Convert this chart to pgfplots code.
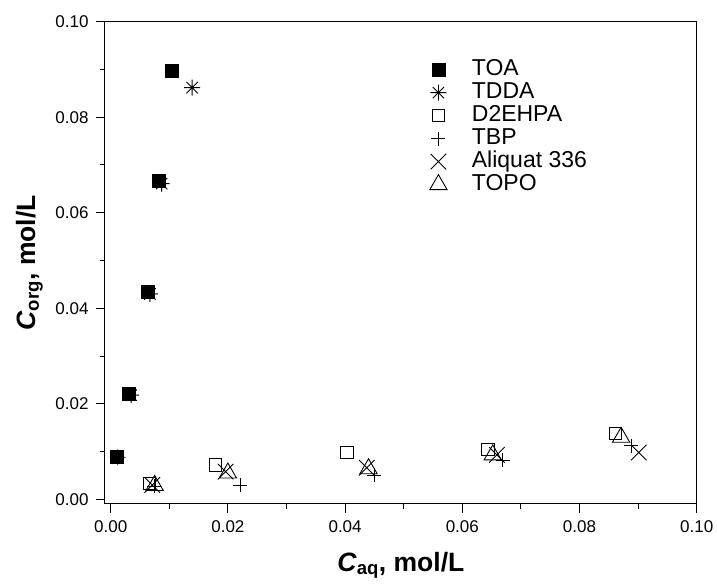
\documentclass[border=0pt]{standalone}
\usepackage{fontspec}
\setmainfont{Liberation Sans}
\usepackage{pgfplots}
\pgfplotsset{compat=1.18}
\pgfdeclareplotmark{star8}{%
  \pgfpathmoveto{\pgfqpoint{0pt}{\pgfplotmarksize}}%
  \pgfpathlineto{\pgfqpoint{0pt}{-\pgfplotmarksize}}%
  \pgfpathmoveto{\pgfqpoint{\pgfplotmarksize}{0pt}}%
  \pgfpathlineto{\pgfqpoint{-\pgfplotmarksize}{0pt}}%
  \pgfpathmoveto{\pgfqpoint{.7071\pgfplotmarksize}{.7071\pgfplotmarksize}}%
  \pgfpathlineto{\pgfqpoint{-.7071\pgfplotmarksize}{-.7071\pgfplotmarksize}}%
  \pgfpathmoveto{\pgfqpoint{-.7071\pgfplotmarksize}{.7071\pgfplotmarksize}}%
  \pgfpathlineto{\pgfqpoint{.7071\pgfplotmarksize}{-.7071\pgfplotmarksize}}%
  \pgfusepathqstroke}
\begin{document}
\begin{tikzpicture}
\begin{axis}[
  name=ax,
  scale only axis,
  width=591.7pt, height=482.3pt,
  xmin=-0.00097, xmax=0.1, ymin=-0.00098, ymax=0.1,
  xtick={0,0.02,0.04,0.06,0.08,0.1},
  ytick={0,0.02,0.04,0.06,0.08,0.1},
  minor tick num=1,
  tick align=outside,
  xtick pos=bottom, ytick pos=left,
  major tick length=9pt, minor tick length=5pt,
  axis line style={line width=1pt},
  every tick/.style={black, line width=1pt},
  scaled ticks=false,
  /pgf/number format/assume math mode=true,
  /pgf/number format/.cd, fixed, fixed zerofill, precision=2,
  /pgfplots/.cd,
  tick label style={font=\fontsize{17}{20}\selectfont},
  yticklabel style={xshift=-4pt},
  xticklabel style={yshift=-4pt},
  xlabel={\textbf{\textit{C}\textsubscript{aq}, mol/L}},
  ylabel={\textbf{\textit{C}\textsubscript{org}, mol/L}},
  label style={font=\fontsize{26.5}{30}\selectfont},
  xlabel style={at={(axis description cs:0.5,-0.127)}, anchor=center},
  ylabel style={at={(axis description cs:-0.128,0.5)}, anchor=center},
  legend style={draw=none, fill=none, at={(axis description cs:0.5435,0.929)}, anchor=north west,
    font=\fontsize{23}{27}\selectfont, row sep=0pt,
    nodes={inner sep=0pt, text height=17pt, text depth=6pt}},
  legend cell align=left,
  legend image code/.code={\draw[#1] plot coordinates {(0pt,0pt)}; \path (-8pt,0pt) (33pt,0pt);},
]
\addplot[only marks, black, mark=square*, mark size=6.5pt] coordinates {
(0.0010,0.0089)(0.0031,0.0221)(0.0063,0.0435)(0.0082,0.0668)(0.0104,0.0897)};
\addlegendentry{TOA}
\addplot[only marks, black, mark=star8, mark size=8pt, line width=0.9pt] coordinates {
(0.0012,0.0088)(0.0035,0.0218)(0.0067,0.0430)(0.0087,0.0661)(0.0139,0.0862)};
\addlegendentry{TDDA}
\addplot[only marks, black, mark=square, mark size=6.2pt, line width=0.9pt] coordinates {
(0.0066,0.0033)(0.0179,0.0072)(0.0403,0.0098)(0.0644,0.0105)(0.0861,0.0138)};
\addlegendentry{D2EHPA}
\addplot[only marks, black, mark=+, mark size=7pt, line width=0.9pt] coordinates {
(0.0074,0.0027)(0.0221,0.0030)(0.0450,0.0050)(0.0669,0.0082)(0.0888,0.0112)};
\addlegendentry{TBP}
\addplot[only marks, black, mark=x, mark size=11pt, line width=0.9pt] coordinates {
(0.0071,0.0030)(0.0196,0.0058)(0.0437,0.0066)(0.0659,0.0093)(0.0901,0.0098)};
\addlegendentry{Aliquat 336}
\addplot[only marks, black, mark=triangle, mark size=10pt, line width=0.9pt] coordinates {
(0.0075,0.0029)(0.0200,0.0055)(0.0440,0.0064)(0.0652,0.0093)(0.0871,0.0130)};
\addlegendentry{TOPO}
\end{axis}
\path[use as bounding box] ([xshift=-105pt,yshift=-84pt]ax.south west) rectangle ([xshift=20.3pt,yshift=21.7pt]ax.north east);
\end{tikzpicture}
\end{document}
